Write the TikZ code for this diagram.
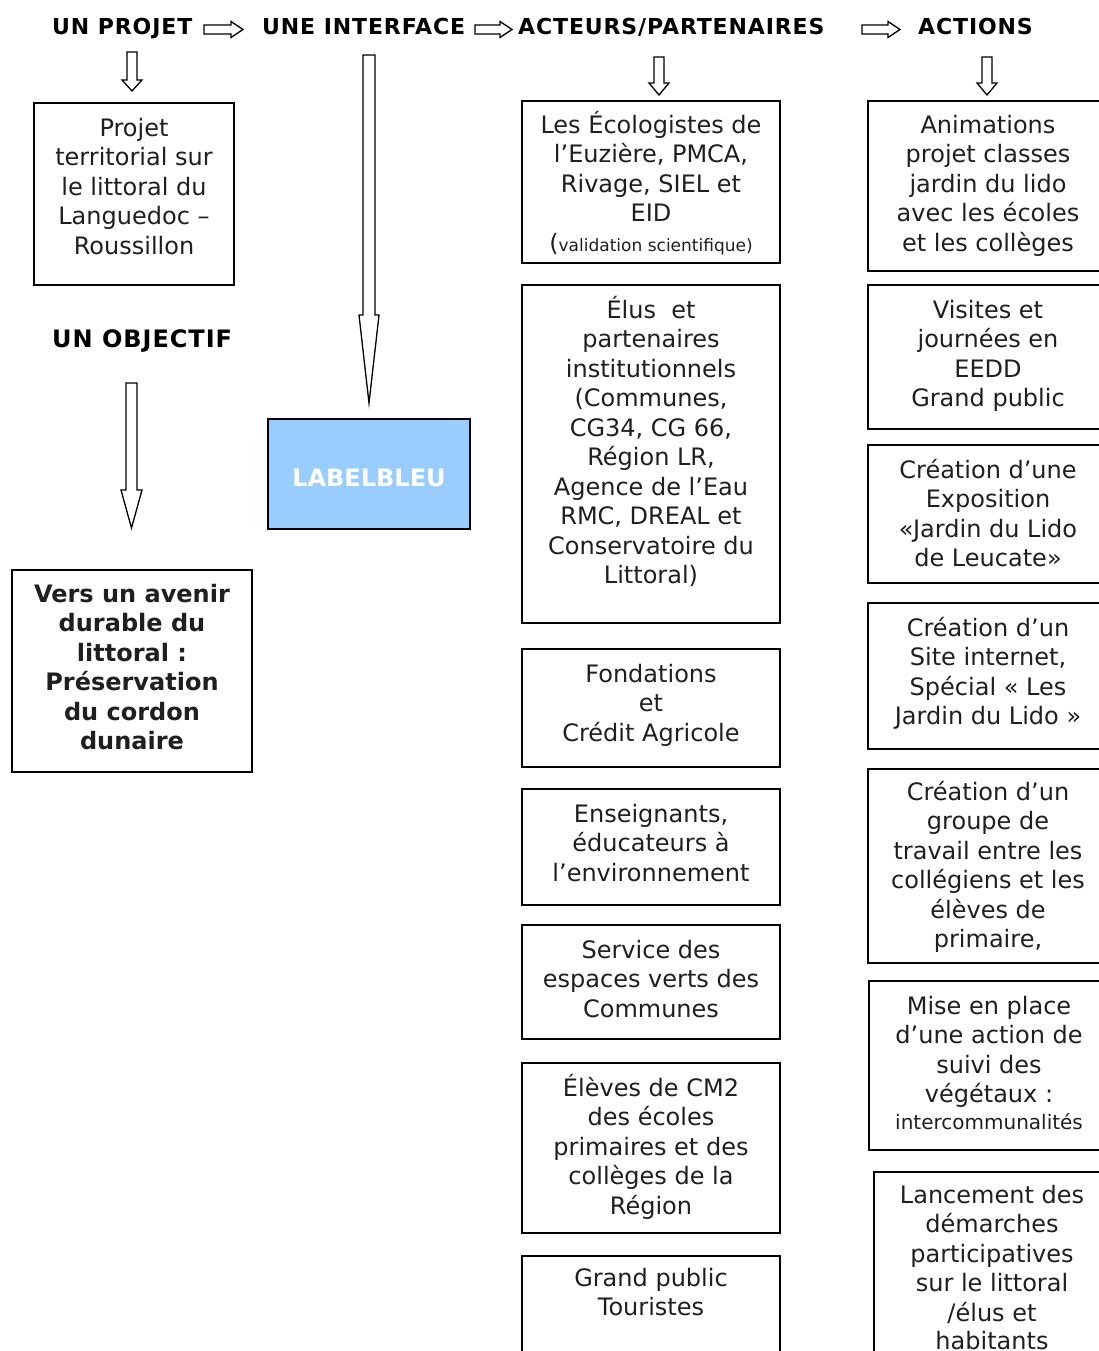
\documentclass[tikz,border=0pt]{standalone}
\usepackage{fontspec}
\setmainfont{DejaVu Sans}
\newfontfamily\hdrfont[LetterSpace=4]{DejaVu Sans}
\definecolor{lblue}{HTML}{99CCFF}
\newcommand\fs{\rule{0pt}{23pt}}
% hollow arrow pointing down: x, ytop, yhead, ytip, shaft half width, head half width
\newcommand\harrowD[6]{%
  \draw[hollow] ({#1-#5},#2) -- ({#1+#5},#2) -- ({#1+#5},#3) -- ({#1+#6},#3) -- (#1,#4)
     -- ({#1-#6},#3) -- ({#1-#5},#3) -- cycle;}
% hollow arrow pointing right: xleft, xhead, xtip, ycenter, shaft half height, head half height
\newcommand\harrowR[6]{%
  \draw[hollow] (#1,{#4-#5}) -- (#2,{#4-#5}) -- (#2,{#4-#6}) -- (#3,#4) -- (#2,{#4+#6})
     -- (#2,{#4+#5}) -- (#1,{#4+#5}) -- cycle;}
\begin{document}
\begin{tikzpicture}[x=1pt,y=-1pt,
  box/.style={draw=black, line width=1.5pt, inner sep=0pt, outer sep=0pt, anchor=north west},
  txt/.style={align=center, inner sep=0pt, anchor=north, text=black!88,
              font=\fontsize{24}{29.5}\selectfont},
  btxt/.style={txt, font=\fontsize{24}{29.5}\selectfont\bfseries},
  hdr/.style={inner sep=0pt, anchor=base west, font=\fontsize{22}{26}\selectfont\hdrfont\bfseries},
  hollow/.style={draw=black, line width=1.3pt, fill=white, line join=miter}]
\useasboundingbox (0,0) rectangle (1099,1351);
\clip (0,0) rectangle (1099,1351);
\fill[white] (0,0) rectangle (1099,1351);

% headers
\node[hdr] (h1) at (52,35) {UN PROJET};
\node[hdr] (h2) at (262,35) {UNE INTERFACE};
\node[hdr] (h3) at (518,35) {ACTEURS/PARTENAIRES};
\node[hdr] (h4) at (918,35) {ACTIONS};
\node[hdr, font=\fontsize{24}{28}\selectfont\hdrfont\bfseries] (obj) at (52,347) {UN OBJECTIF};

% header arrows
\harrowR{204}{231}{243}{29.5}{4.5}{8}
\harrowR{475}{500}{512}{29.5}{4.5}{8}
\harrowR{862}{888}{900}{29.5}{4.5}{8}

% down arrows
\harrowD{132}{52}{80}{91}{5}{10}
\harrowD{659}{57}{83}{95}{5}{10}
\harrowD{987}{57}{83}{95}{5}{10}
\harrowD{369}{55}{315}{403}{6}{10}
\harrowD{131.5}{383}{490}{528}{5.5}{10.5}

% left column
\node[box, minimum width=200pt, minimum height=182pt] (projet) at (34,103) {};
\node[txt] (tprojet) at ([yshift=-10pt]projet.north) {\fs Projet\\territorial sur\\le littoral du\\Languedoc –\\Roussillon};
\node[box, minimum width=240pt, minimum height=202pt] (objbox) at (12,570) {};
\node[btxt] (tobj) at ([yshift=-9pt]objbox.north) {\fs Vers un avenir\\durable du\\littoral :\\Préservation\\du cordon\\dunaire};

% interface
\node[draw=black, line width=1.5pt, fill=lblue, minimum width=202pt, minimum height=110pt,
      text=white, font=\fontsize{24}{28}\selectfont\bfseries, text height=25.5pt, text depth=0pt,
      inner sep=0pt] (label) at (369,474) {LABELBLEU};

% column 3: acteurs / partenaires
\node[box, minimum width=258pt, minimum height=162pt] (c3a) at (522,101) {};
\node[txt] (t3a) at ([yshift=-9pt]c3a.north) {\fs Les Écologistes de\\l’Euzière, PMCA,\\Rivage, SIEL et\\EID\\{\fontsize{24}{29.5}\selectfont(}{\fontsize{17}{29.5}\selectfont validation scientifique)}};
\node[box, minimum width=258pt, minimum height=338pt] (c3b) at (522,285) {};
\node[txt] (t3b) at ([yshift=-10pt]c3b.north) {\fs Élus\ \ et\\partenaires\\institutionnels\\(Communes,\\CG34, CG 66,\\Région LR,\\Agence de l’Eau\\RMC, DREAL et\\Conservatoire du\\Littoral)};
\node[box, minimum width=258pt, minimum height=118pt] (c3c) at (522,649) {};
\node[txt] (t3c) at ([yshift=-10pt]c3c.north) {\fs Fondations\\et\\Crédit Agricole};
\node[box, minimum width=258pt, minimum height=116pt] (c3d) at (522,789) {};
\node[txt] (t3d) at ([yshift=-10pt]c3d.north) {\fs Enseignants,\\éducateurs à\\l’environnement};
\node[box, minimum width=258pt, minimum height=114pt] (c3e) at (522,925) {};
\node[txt] (t3e) at ([yshift=-10pt]c3e.north) {\fs Service des\\espaces verts des\\Communes};
\node[box, minimum width=258pt, minimum height=170pt] (c3f) at (522,1063) {};
\node[txt] (t3f) at ([yshift=-10pt]c3f.north) {\fs Élèves de CM2\\des écoles\\primaires et des\\collèges de la\\Région};
\node[box, minimum width=258pt, minimum height=200pt] (c3g) at (522,1256) {};
\node[txt] (t3g) at ([yshift=-7pt]c3g.north) {\fs Grand public\\Touristes};

% column 4: actions
\node[box, minimum width=240pt, minimum height=170pt] (c4a) at (868,101) {};
\node[txt] (t4a) at ([yshift=-9pt]c4a.north) {\fs Animations\\projet classes\\jardin du lido\\avec les écoles\\et les collèges};
\node[box, minimum width=240pt, minimum height=144pt] (c4b) at (868,285) {};
\node[txt] (t4b) at ([yshift=-10pt]c4b.north) {\fs Visites et\\journées en\\EEDD\\Grand public};
\node[box, minimum width=240pt, minimum height=138pt] (c4c) at (868,445) {};
\node[txt] (t4c) at ([yshift=-10pt]c4c.north) {\fs Création d’une\\Exposition\\«Jardin du Lido\\de Leucate»};
\node[box, minimum width=240pt, minimum height=146pt] (c4d) at (868,603) {};
\node[txt] (t4d) at ([yshift=-10pt]c4d.north) {\fs Création d’un\\Site internet,\\Spécial « Les\\Jardin du Lido »};
\node[box, minimum width=240pt, minimum height=194pt] (c4e) at (868,769) {};
\node[txt] (t4e) at ([yshift=-8pt]c4e.north) {\fs Création d’un\\groupe de\\travail entre les\\collégiens et les\\élèves de\\primaire,};
\node[box, minimum width=240pt, minimum height=169pt] (c4f) at (869,981) {};
\node[txt] (t4f) at ([yshift=-10pt]c4f.north) {\fs Mise en place\\d’une action de\\suivi des\\végétaux :\\[-2.5pt]{\fontsize{20}{29.5}\selectfont intercommunalités}};
\node[box, minimum width=236pt, minimum height=200pt] (c4g) at (874,1172) {};
\node[txt] (t4g) at ([yshift=-8pt]c4g.north) {\fs Lancement des\\démarches\\participatives\\sur le littoral\\/élus et\\[-1pt]habitants};
\end{tikzpicture}
\end{document}
